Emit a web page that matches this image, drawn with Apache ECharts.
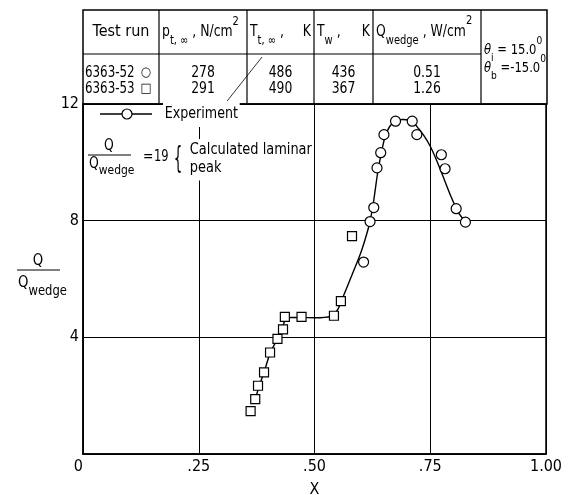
<!DOCTYPE html>
<html>
<head>
<meta charset="utf-8">
<script src="https://cdn.jsdelivr.net/npm/echarts@6/dist/echarts.min.js"></script>
<style>
  html, body { margin: 0; padding: 0; background: #fff; }
  #chart { width: 569px; height: 495px; }
</style>
</head>
<body>
<div id="chart"></div>
<script>
// ---- data ----
// Test conditions table
const runIds = ['6363-52', '6363-53'];
const runMarks = ['○', '□'];
const totalPressure = ['278', '291'];   // p t,inf  N/cm^2
const totalTemp = ['486', '490'];       // T t,inf  K
const wallTemp = ['436', '367'];        // T w  K
const wedgeHeating = ['0.51', '1.26'];  // Q wedge  W/cm^2

// Axis ticks
const xTickValues = [0, 0.25, 0.5, 0.75, 1.0];
const xTickLabels = ['0', '.25', '.50', '.75', '1.00'];
const yTickValues = [0, 4, 8, 12];
const yTickLabels = ['', '4', '8', '12'];

// Run 6363-52 (circles)
const run52X = [0.606, 0.620, 0.628, 0.635, 0.643, 0.650, 0.675, 0.711, 0.721, 0.774, 0.782, 0.806, 0.826];
const run52Y = [6.58, 7.97, 8.45, 9.81, 10.33, 10.95, 11.41, 11.41, 10.95, 10.26, 9.78, 8.41, 7.95];

// Run 6363-53 (squares)
const run53X = [0.362, 0.372, 0.378, 0.391, 0.404, 0.420, 0.432, 0.436, 0.472, 0.542, 0.557, 0.581];
const run53Y = [1.47, 1.88, 2.34, 2.80, 3.48, 3.95, 4.27, 4.70, 4.70, 4.74, 5.24, 7.47];

// Faired experimental curve
const fairX = [0.372, 0.380, 0.391, 0.404, 0.420, 0.430, 0.437, 0.450, 0.470, 0.500, 0.535, 0.550, 0.562, 0.580, 0.600, 0.612, 0.620, 0.628, 0.636, 0.644, 0.652, 0.662, 0.675, 0.690, 0.705, 0.715, 0.725, 0.737, 0.750, 0.765, 0.780, 0.795, 0.810, 0.826];
const fairY = [1.88, 2.30, 2.80, 3.45, 3.95, 4.25, 4.62, 4.68, 4.68, 4.67, 4.72, 4.95, 5.40, 6.10, 6.90, 7.50, 7.98, 8.70, 9.60, 10.30, 10.85, 11.22, 11.42, 11.47, 11.45, 11.35, 11.15, 10.90, 10.55, 10.02, 9.42, 8.82, 8.30, 7.95];

// ---- helpers ----
const FONT = "'DejaVu Sans Condensed','DejaVu Sans',sans-serif";
const SX = 0.92;   // horizontal squeeze for the narrow lettering
const measureCtx = document.createElement('canvas').getContext('2d');
function fontStr(size, style) { return (style ? style + ' ' : '') + size + 'px ' + FONT; }
function textWidth(t, size, style) { measureCtx.font = fontStr(size, style); return measureCtx.measureText(t).width * SX; }

function txt(t, x, y, size, opts) {
  opts = opts || {};
  const style = {
    text: t, x: 0, y: 0,
    font: fontStr(size, opts.fontStyle),
    fill: '#000',
    align: opts.align || 'left', textAlign: opts.align || 'left',
    verticalAlign: 'middle', textVerticalAlign: 'middle'
  };
  if (opts.bg) { style.backgroundColor = '#fff'; style.padding = opts.pad || [2, 2, 2, 2]; }
  return { type: 'text', x: x, y: y, z: 100, scaleX: opts.sx || SX, style: style };
}

// a run of text pieces laid side by side: [text, size, dy, fontStyle]
function seq(x, y, parts) {
  const out = [];
  let cx = x;
  parts.forEach(function (p) {
    out.push(txt(p[0], cx, y + (p[2] || 0), p[1], { fontStyle: p[3] }));
    cx += textWidth(p[0], p[1], p[3]);
  });
  return out;
}

function seg(x1, y1, x2, y2, w) {
  return { type: 'line', z: 100, shape: { x1: x1, y1: y1, x2: x2, y2: y2 },
           style: { stroke: '#000', lineWidth: w || 1 } };
}

// ---- table above the plot ----
const T = { left: 83, right: 547, top: 10, mid: 54, bottom: 104 };
const colEdges = [159, 247, 314, 373, 481];
const colCenters = [203, 280.5, 343.5, 427];
const rowY = [73, 89];
const H = 15, S = 12;

const graphics = [];
graphics.push({ type: 'rect', z: 100, shape: { x: T.left, y: T.top, width: T.right - T.left, height: T.bottom - T.top },
                style: { fill: null, stroke: '#000', lineWidth: 1.5 } });
colEdges.forEach(function (cx) { graphics.push(seg(cx, T.top, cx, T.bottom, 1.2)); });
graphics.push(seg(T.left, T.mid, colEdges[4], T.mid, 1.2));

// header cells
graphics.push(txt('Test run', 121, 32, H + 1, { align: 'center', sx: 1.0 }));
seq(162, 32, [['p', H], ['t, ∞', S, 9], [' , N/cm', H], ['2', S, -10]]).forEach(e => graphics.push(e));
seq(250, 32, [['T', H], ['t, ∞', S, 9], [' ,', H]]).forEach(e => graphics.push(e));
graphics.push(txt('K', 311, 32, H, { align: 'right' }));
seq(317, 32, [['T', H], ['w', S, 9], [' ,', H]]).forEach(e => graphics.push(e));
graphics.push(txt('K', 370, 32, H, { align: 'right' }));
seq(376, 32, [['Q', H], ['wedge', S, 9], [' , W/cm', H], ['2', S, -11]]).forEach(e => graphics.push(e));
seq(484, 50, [['θ', 14, 0, 'italic'], ['i', 11, 8], [' = 15.0', 14], ['0', 11, -9]]).forEach(e => graphics.push(e));
seq(484, 68, [['θ', 14, 0, 'italic'], ['b', 11, 8], [' =-15.0', 14], ['0', 11, -9]]).forEach(e => graphics.push(e));

// data rows
runIds.forEach(function (id, i) {
  const y = rowY[i];
  graphics.push(txt(id, 85, y, H, { sx: 0.88 }));
  graphics.push(txt(runMarks[i], 146, y, H - 2, { align: 'center', sx: 1 }));
  [totalPressure[i], totalTemp[i], wallTemp[i], wedgeHeating[i]].forEach(function (v, j) {
    graphics.push(txt(v, colCenters[j], y, H, { align: 'center' }));
  });
});

// leader line from the table down to the legend
graphics.push(seg(262, 57, 220, 110, 0.8));

// ---- legend inside the plot ----
graphics.push(seg(100, 114, 152, 114, 1.3));
graphics.push({ type: 'circle', z: 101, shape: { cx: 127, cy: 114, r: 5 },
                style: { fill: '#fff', stroke: '#000', lineWidth: 1.2 } });
graphics.push(txt('Experiment', 163, 114, H + 1, { bg: true, pad: [4, 2, 6, 2], sx: 0.88 }));

graphics.push(txt('Q', 109, 146, H, { align: 'center' }));
graphics.push(seg(88, 155, 131, 155, 1));
seq(89, 164, [['Q', H], ['wedge', S + 1, 7]]).forEach(e => graphics.push(e));
graphics.push(txt('=', 143, 157, H));
graphics.push(txt('19', 154, 157, H, { sx: 0.85 }));
graphics.push(txt('{', 178, 160, 30, { align: 'center', sx: 0.5 }));
graphics.push(txt('Calculated laminar', 188, 150, H + 1, { bg: true, pad: [3, 2, 3, 2], sx: 0.9 }));
graphics.push(txt('peak', 188, 168, H + 1, { bg: true, pad: [3, 2, 6, 2], sx: 0.9 }));

// ---- y axis title ----
graphics.push(txt('Q', 38, 261, H + 1, { align: 'center' }));
graphics.push(seg(17, 270, 60, 270, 1));
seq(18, 283, [['Q', H + 1], ['wedge', S + 2, 8]]).forEach(e => graphics.push(e));

// ---- chart ----
const chart = echarts.init(document.getElementById('chart'), null, { renderer: 'canvas' });

function pairs(xs, ys) { return xs.map(function (x, i) { return [x, ys[i]]; }); }

chart.setOption({
  animation: false,
  backgroundColor: '#fff',
  grid: { left: 83, right: 23, top: 104, bottom: 41, show: true, outerBoundsMode: 'none',
          borderColor: '#000', borderWidth: 1.5, backgroundColor: 'transparent' },
  xAxis: {
    type: 'value', min: 0, max: 1, interval: 0.25,
    name: 'X', nameLocation: 'middle', nameGap: 28,
    nameTextStyle: { fontFamily: FONT, fontSize: 16, color: '#000' },
    axisLine: { show: true, lineStyle: { color: '#000', width: 1.5 } },
    axisTick: { show: false },
    splitLine: { show: true, lineStyle: { color: '#000', width: 1 } },
    axisLabel: {
      color: '#000', fontFamily: FONT, fontSize: 16, margin: 5,
      alignMinLabel: 'right',
      formatter: function (v) {
        const k = xTickValues.findIndex(function (t) { return Math.abs(t - v) < 1e-9; });
        return k >= 0 ? xTickLabels[k] : '';
      }
    }
  },
  yAxis: {
    type: 'value', min: 0, max: 12, interval: 4,
    axisLine: { show: true, lineStyle: { color: '#000', width: 1.5 } },
    axisTick: { show: false },
    splitLine: { show: true, lineStyle: { color: '#000', width: 1 } },
    axisLabel: {
      color: '#000', fontFamily: FONT, fontSize: 16, margin: 4,
      formatter: function (v) {
        const k = yTickValues.findIndex(function (t) { return Math.abs(t - v) < 1e-9; });
        return k >= 0 ? yTickLabels[k] : '';
      }
    }
  },
  graphic: { elements: graphics },
  series: [
    {
      name: 'Experiment', type: 'line', data: pairs(fairX, fairY),
      smooth: 0.25, showSymbol: false, symbol: 'none', z: 3,
      lineStyle: { color: '#000', width: 1.4 }
    },
    {
      name: '6363-52', type: 'scatter', data: pairs(run52X, run52Y),
      symbol: 'circle', symbolSize: 10, z: 5,
      itemStyle: { color: '#fff', borderColor: '#000', borderWidth: 1.2, opacity: 1 }
    },
    {
      name: '6363-53', type: 'scatter', data: pairs(run53X, run53Y),
      symbol: 'rect', symbolSize: 9, z: 5,
      itemStyle: { color: '#fff', borderColor: '#000', borderWidth: 1.2, opacity: 1 }
    }
  ]
});
</script>
</body>
</html>
